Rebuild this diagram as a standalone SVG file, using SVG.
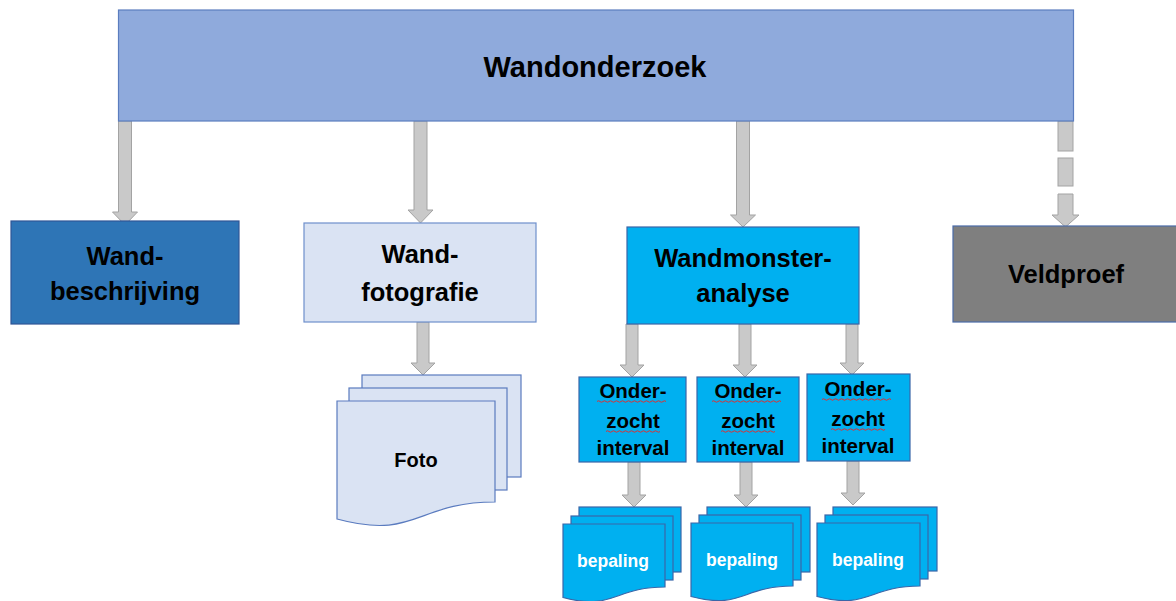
<svg xmlns="http://www.w3.org/2000/svg" width="1176" height="601" viewBox="0 0 1176 601">
<style>
text{font-family:"Liberation Sans",Arial,sans-serif;font-weight:bold;text-anchor:middle;fill:#000}
.arrow{fill:#C9C9C9;stroke:#A3A3A3;stroke-width:1}
.top{fill:#8FAADC;stroke:#5B7DBF;stroke-width:1.2}
.l2{font-size:25.5px}
.sub{font-size:20.5px}
.bep{font-size:17.5px;fill:#fff}
.doc1{fill:#DAE3F3;stroke:#5A7BBF;stroke-width:1.2}
.doc2{fill:#00B0F0;stroke:#3A66A8;stroke-width:1.2}
.cyan{fill:#00B0F0;stroke:#3A66A8;stroke-width:1.2}
.sq{fill:none;stroke:#E03030;stroke-width:1}
</style>
<rect width="1176" height="601" fill="#fff"/>

<g id="connectors">
  <path class="arrow" d="M118.5,121 H131.5 V212 H137.5 L125,225 L112.5,212 H118.5 Z"/>
  <path class="arrow" d="M414,121 H427 V210 H433 L420.5,223 L408,210 H414 Z"/>
  <path class="arrow" d="M736.5,121 H749.5 V215 H755.5 L743,227 L730.5,215 H736.5 Z"/>
  <g id="dashed-arrow">
    <rect class="arrow" x="1058" y="121" width="15" height="30"/>
    <rect class="arrow" x="1058" y="158" width="15" height="28"/>
    <path class="arrow" d="M1058,194 H1073 V215 H1079 L1065.5,227 L1052,215 H1058 Z"/>
  </g>
  <path class="arrow" d="M417,322 H429 V363 H435 L423,375 L411,363 H417 Z"/>
  <path class="arrow" d="M626,324 H638 V365 H644 L632,377 L620,365 H626 Z"/>
  <path class="arrow" d="M739,324 H751 V365 H757 L745,377 L733,365 H739 Z"/>
  <path class="arrow" d="M846,324 H858 V363 H864 L852,375 L840,363 H846 Z"/>
  <path class="arrow" d="M628,462 H640 V495 H646 L634,507 L622,495 H628 Z"/>
  <path class="arrow" d="M740,462 H752 V495 H758 L746,507 L734,495 H740 Z"/>
  <path class="arrow" d="M847,461 H859 V493 H865 L853,505 L841,493 H847 Z"/>
</g>

<g id="wandonderzoek">
  <rect class="top" x="118.5" y="10" width="955" height="111"/>
  <text x="595" y="77" font-size="29">Wandonderzoek</text>
</g>

<g id="wandbeschrijving">
  <rect x="11" y="221" width="228" height="103" fill="#2E75B6" stroke="#2F5597" stroke-width="1.2"/>
  <text class="l2" x="125" y="265">Wand-</text>
  <text class="l2" x="125" y="300">beschrijving</text>
</g>

<g id="wandfotografie">
  <rect x="304" y="223" width="232" height="99" fill="#DAE3F3" stroke="#6E8FCC" stroke-width="1.2"/>
  <text class="l2" x="420" y="263">Wand-</text>
  <text class="l2" x="420" y="301">fotografie</text>
</g>

<g id="wandmonsteranalyse">
  <rect class="cyan" x="627" y="227" width="232" height="97"/>
  <text class="l2" x="743" y="267">Wandmonster-</text>
  <text class="l2" x="743" y="302">analyse</text>
</g>

<g id="veldproef">
  <rect x="953" y="226" width="226" height="96" fill="#7F7F7F" stroke="#4A6BA8" stroke-width="1.2"/>
  <text class="l2" x="1066" y="283">Veldproef</text>
</g>

<g id="foto">
  <rect class="doc1" x="362" y="375" width="159" height="102"/>
  <rect class="doc1" x="349" y="388" width="158" height="102"/>
  <path class="doc1" d="M337,401 H495 V502 C416,502 416,540.5 337,519 Z"/>
  <text x="416" y="467" font-size="20">Foto</text>
</g>

<g id="interval1">
  <rect class="cyan" x="579" y="377" width="107" height="85"/>
  <text class="sub" x="633" y="398">Onder-</text>
  <text class="sub" x="633" y="428">zocht</text>
  <text class="sub" x="633" y="455">interval</text>
  <path class="sq" d="M597,401.5 q1.5,-1.5 3,0 t3,0 t3,0 t3,0 t3,0 t3,0 t3,0 t3,0 t3,0 t3,0 t3,0 t3,0 t3,0 t3,0 t3,0 t3,0 t3,0 t3,0 t3,0 t3,0 t3,0 t3,0 t3,0"/>
  <path class="sq" d="M606,431.5 q1.5,-1.5 3,0 t3,0 t3,0 t3,0 t3,0 t3,0 t3,0 t3,0 t3,0 t3,0 t3,0 t3,0 t3,0 t3,0 t3,0 t3,0 t3,0 t3,0"/>
</g>

<g id="interval2">
  <rect class="cyan" x="697" y="377" width="102" height="85"/>
  <text class="sub" x="748" y="398">Onder-</text>
  <text class="sub" x="748" y="428">zocht</text>
  <text class="sub" x="748" y="455">interval</text>
  <path class="sq" d="M712,401.5 q1.5,-1.5 3,0 t3,0 t3,0 t3,0 t3,0 t3,0 t3,0 t3,0 t3,0 t3,0 t3,0 t3,0 t3,0 t3,0 t3,0 t3,0 t3,0 t3,0 t3,0 t3,0 t3,0 t3,0 t3,0"/>
  <path class="sq" d="M721,431.5 q1.5,-1.5 3,0 t3,0 t3,0 t3,0 t3,0 t3,0 t3,0 t3,0 t3,0 t3,0 t3,0 t3,0 t3,0 t3,0 t3,0 t3,0 t3,0 t3,0"/>
</g>

<g id="interval3">
  <rect class="cyan" x="807" y="374" width="103" height="87"/>
  <text class="sub" x="858" y="396">Onder-</text>
  <text class="sub" x="858" y="426">zocht</text>
  <text class="sub" x="858" y="453">interval</text>
  <path class="sq" d="M822,399.5 q1.5,-1.5 3,0 t3,0 t3,0 t3,0 t3,0 t3,0 t3,0 t3,0 t3,0 t3,0 t3,0 t3,0 t3,0 t3,0 t3,0 t3,0 t3,0 t3,0 t3,0 t3,0 t3,0 t3,0 t3,0"/>
  <path class="sq" d="M831,429.5 q1.5,-1.5 3,0 t3,0 t3,0 t3,0 t3,0 t3,0 t3,0 t3,0 t3,0 t3,0 t3,0 t3,0 t3,0 t3,0 t3,0 t3,0 t3,0 t3,0"/>
</g>

<g id="bepaling1">
  <rect class="doc2" x="579" y="507" width="102" height="65"/>
  <rect class="doc2" x="571" y="516" width="102" height="64"/>
  <path class="doc2" d="M563,524 H665 V587 C614,587 614,611 563,597.5 Z"/>
  <text class="bep" x="613" y="567">bepaling</text>
</g>

<g id="bepaling2">
  <rect class="doc2" x="707" y="507" width="103" height="65"/>
  <rect class="doc2" x="699" y="515" width="102" height="65"/>
  <path class="doc2" d="M691,523 H793 V586 C742,586 742,610 691,596.5 Z"/>
  <text class="bep" x="742" y="566">bepaling</text>
</g>

<g id="bepaling3">
  <rect class="doc2" x="833" y="507" width="104" height="64"/>
  <rect class="doc2" x="825" y="515" width="103" height="64"/>
  <path class="doc2" d="M817,523 H920 V586 C868.5,586 868.5,610 817,596.5 Z"/>
  <text class="bep" x="868" y="566">bepaling</text>
</g>
</svg>
